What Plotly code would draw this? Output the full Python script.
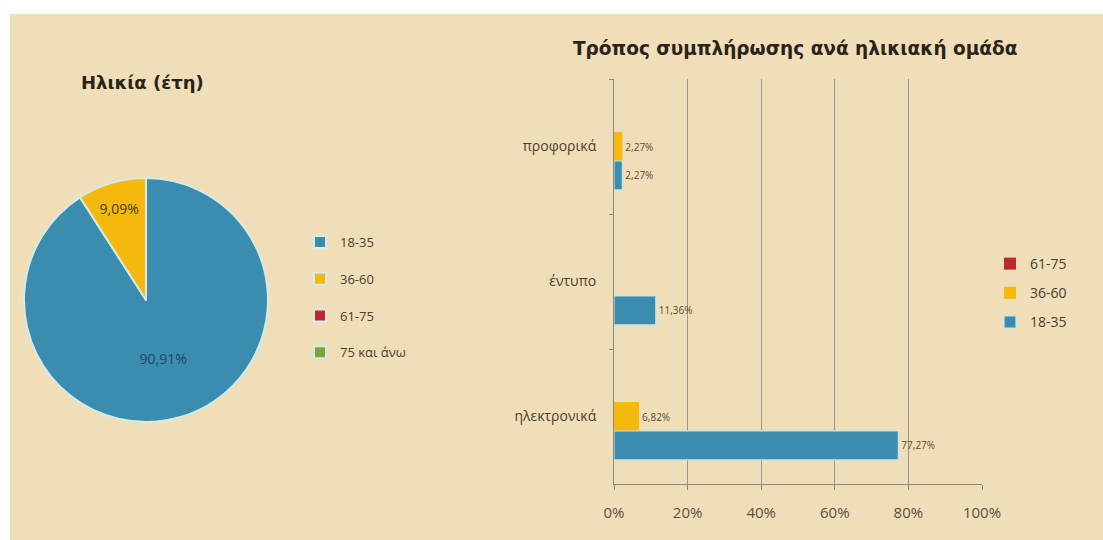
import plotly.graph_objects as go

# Age distribution (pie)
age_groups = ["18-35", "36-60", "61-75", "75 και άνω"]
age_share = [90.91, 9.09, 0.0, 0.0]
age_colors = ["#3A8DAE", "#F5B80C", "#BF272E", "#7DA43C"]

# Completion method by age group (bars), categories listed top to bottom
methods = ["προφορικά", "έντυπο", "ηλεκτρονικά"]
share_61_75 = [0.0, 0.0, 0.0]
share_36_60 = [2.27, 0.0, 6.82]
share_18_35 = [2.27, 11.36, 77.27]
x_ticks = [0, 20, 40, 60, 80, 100]

W, H = 1103, 540
BG = "#F0DEB8"
FONT = "Open Sans"
TITLE_FONT = "DejaVu Sans"


def px(x):
    return x / W


def py(y):
    return 1 - y / H


def pct(v):
    return f"{v:.2f}%".replace(".", ",") if v > 0 else ""


fig = go.Figure()

fig.add_trace(go.Pie(
    labels=[g + "<br>" for g in age_groups],
    values=age_share,
    text=[pct(v) for v in age_share],
    texttemplate="%{text}",
    textposition="inside",
    insidetextorientation="horizontal",
    textfont=dict(family=FONT, size=14, color=["#1D4763", "#4A3A10", "#333", "#333"]),
    marker=dict(colors=age_colors, line=dict(color="#D6EAE6", width=2)),
    sort=False,
    direction="clockwise",
    rotation=0,
    domain=dict(x=[px(24), px(268)], y=[py(422), py(178)]),
    legend="legend",
    showlegend=True,
))

# On the reversed category axis the first trace of each group sits on top
bar_series = [
    ("61-75", share_61_75, "#BF272E", "#BF272E", 0),
    ("36-60", share_36_60, "#F5B80C", "#F5B80C", 0),
    ("18-35", share_18_35, "#3A8DAE", "#C4E4EA", 1.2),
]
for name, vals, col, edge, edge_w in bar_series:
    fig.add_trace(go.Bar(
        name=name,
        y=methods,
        x=vals,
        orientation="h",
        marker=dict(color=col, line=dict(color=edge, width=edge_w)),
        text=[pct(v) for v in vals],
        textposition="outside",
        cliponaxis=False,
        textfont=dict(family=FONT, size=10, color="#5A4C34"),
        legend="legend2",
        legendgroup=name,
    ))

axis_col = "#8E887A"
fig.update_layout(
    width=W,
    height=H,
    margin=dict(l=0, r=0, t=0, b=0),
    paper_bgcolor=BG,
    plot_bgcolor="rgba(0,0,0,0)",
    separators=",.",
    barmode="group",
    bargap=0.356,
    bargroupgap=0,
    font=dict(family=FONT, color="#4A4030"),
    xaxis=dict(
        domain=[px(614), px(982)],
        range=[0, 100],
        tickvals=x_ticks,
        ticktext=[f"{t}%" for t in x_ticks],
        showgrid=True,
        gridcolor="#9C9686",
        gridwidth=1,
        showline=True,
        linecolor=axis_col,
        ticks="outside",
        ticklen=5,
        tickcolor=axis_col,
        ticklabelstandoff=10,
        tickfont=dict(family=FONT, size=15, color="#5C5040"),
        zeroline=False,
        automargin=False,
        fixedrange=True,
    ),
    yaxis=dict(
        domain=[py(484), py(79)],
        type="category",
        autorange="reversed",
        showline=True,
        linecolor=axis_col,
        ticks="outside",
        tickson="boundaries",
        ticklen=4,
        tickcolor=axis_col,
        ticklabelstandoff=14,
        showgrid=False,
        tickfont=dict(family=FONT, size=14, color="#4A4030"),
        automargin=False,
        fixedrange=True,
    ),
    legend=dict(
        x=px(300), y=py(227), xanchor="left", yanchor="top",
        bgcolor="rgba(0,0,0,0)",
        font=dict(family=FONT, size=13, color="#4A4030"),
        valign="top",
    ),
    legend2=dict(
        x=px(990), y=py(248), xanchor="left", yanchor="top",
        bgcolor="rgba(0,0,0,0)",
        traceorder="grouped",
        tracegroupgap=8,
        font=dict(family=FONT, size=14, color="#4A4030"),
    ),
    shapes=[
        dict(type="rect", xref="paper", yref="paper", x0=0, x1=px(10), y0=0, y1=1,
             fillcolor="white", line=dict(width=0), layer="below"),
        dict(type="rect", xref="paper", yref="paper", x0=0, x1=1, y0=py(14), y1=1,
             fillcolor="white", line=dict(width=0), layer="below"),
    ],
    annotations=[
        dict(text="<b>Ηλικία (έτη)</b>", xref="paper", yref="paper",
             x=px(142), y=py(83), xanchor="center", yanchor="middle",
             showarrow=False, font=dict(family=TITLE_FONT, size=18, color="#2A2418")),
        dict(text="<b>Τρόπος συμπλήρωσης ανά ηλικιακή ομάδα</b>", xref="paper", yref="paper",
             x=px(795), y=py(48), xanchor="center", yanchor="middle",
             showarrow=False, font=dict(family=TITLE_FONT, size=18.5, color="#2A2418")),
    ],
)

fig.write_html("out.html")
